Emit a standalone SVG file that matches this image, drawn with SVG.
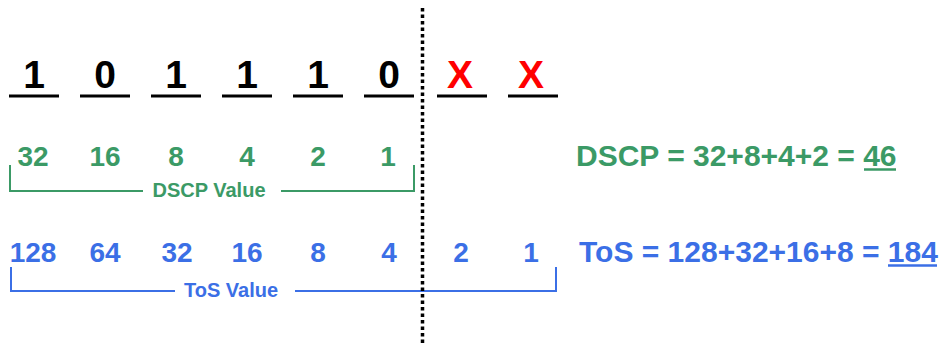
<svg xmlns="http://www.w3.org/2000/svg" width="952" height="343" viewBox="0 0 952 343">
<style>
text{font-family:"Liberation Sans",Arial,sans-serif;font-weight:bold;}
.bit{font-size:39px;fill:#000;text-anchor:middle;}
.x{fill:#f00;}
.ul{stroke:#000;stroke-width:3;}
.g{fill:#3b9a66;}
.b{fill:#3b6fe6;}
.num{font-size:28px;text-anchor:middle;}
.lbl{font-size:20px;text-anchor:middle;}
.eq{font-size:30px;}
.gl{stroke:#3b9a66;stroke-width:2;fill:none;}
.bl{stroke:#3b6fe6;stroke-width:2;fill:none;}
</style>
<rect width="952" height="343" fill="#fff"/>
<g id="bits">
<text class="bit" x="34" y="88">1</text>
<text class="bit" x="105" y="88">0</text>
<text class="bit" x="176" y="88">1</text>
<text class="bit" x="247" y="88">1</text>
<text class="bit" x="318" y="88">1</text>
<text class="bit" x="389" y="88">0</text>
<text class="bit x" x="460" y="88">X</text>
<text class="bit x" x="531" y="88">X</text>
<line class="ul" x1="9" y1="96" x2="59" y2="96"/>
<line class="ul" x1="80" y1="96" x2="130" y2="96"/>
<line class="ul" x1="151" y1="96" x2="201" y2="96"/>
<line class="ul" x1="222" y1="96" x2="272" y2="96"/>
<line class="ul" x1="293" y1="96" x2="343" y2="96"/>
<line class="ul" x1="364" y1="96" x2="414" y2="96"/>
<line class="ul" x1="437" y1="96" x2="487" y2="96"/>
<line class="ul" x1="508" y1="96" x2="558" y2="96"/>
</g>
<g id="dscp">
<text class="num g" x="33" y="166">32</text>
<text class="num g" x="105" y="166">16</text>
<text class="num g" x="176" y="166">8</text>
<text class="num g" x="247" y="166">4</text>
<text class="num g" x="318" y="166">2</text>
<text class="num g" x="388" y="166">1</text>
<path class="gl" d="M10,165 V191 H143 M281,191 H414 V165"/>
<text class="lbl g" x="209" y="197">DSCP Value</text>
</g>
<g id="tos">
<text class="num b" x="33" y="262">128</text>
<text class="num b" x="105" y="262">64</text>
<text class="num b" x="177" y="262">32</text>
<text class="num b" x="247" y="262">16</text>
<text class="num b" x="318" y="262">8</text>
<text class="num b" x="389" y="262">4</text>
<text class="num b" x="461" y="262">2</text>
<text class="num b" x="531" y="262">1</text>
<path class="bl" d="M11,267 V291 H175 M295,291 H556 V267"/>
<text class="lbl b" x="231" y="297">ToS Value</text>
</g>
<g id="results">
<text class="eq g" x="576" y="166">DSCP = 32+8+4+2 = 46</text>
<line x1="864" y1="169.5" x2="896" y2="169.5" stroke="#3b9a66" stroke-width="2.5"/>
<text class="eq b" x="579" y="262">ToS = 128+32+16+8 = 184</text>
<line x1="888" y1="265.5" x2="937" y2="265.5" stroke="#3b6fe6" stroke-width="2.5"/>
</g>
<g id="connectors">
<line x1="422.5" y1="8" x2="422.5" y2="343" stroke="#000" stroke-width="3.5" stroke-dasharray="3.5 3"/>
</g>
</svg>
